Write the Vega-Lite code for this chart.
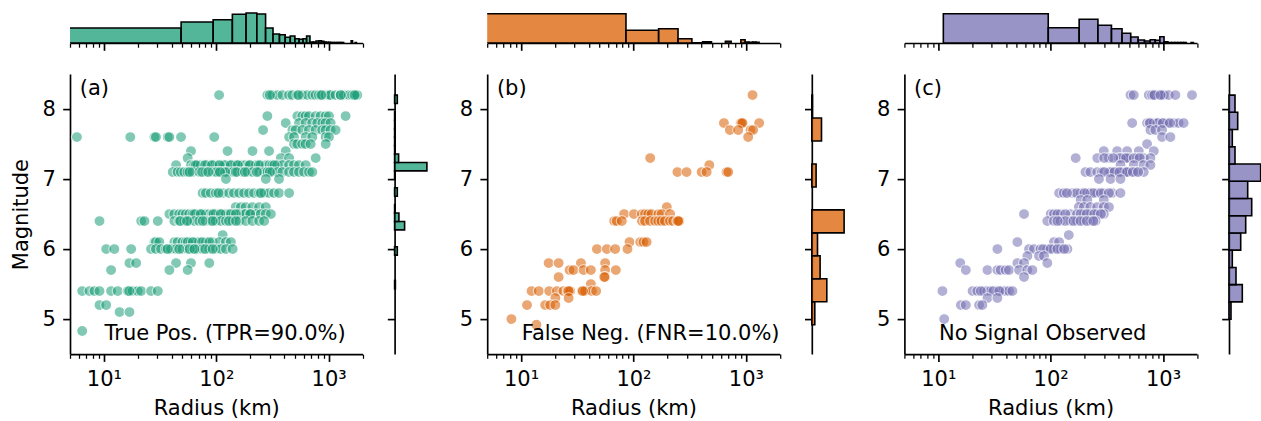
{
"$schema": "https://vega.github.io/schema/vega-lite/v6.json",
"padding": {"left": 10, "top": 8.5, "right": 0, "bottom": 0},
"config": {
  "view": {"stroke": null},
  "font": "DejaVu Sans",
  "axis": {"domainColor": "black", "domainWidth": 1.67, "tickColor": "black", "tickWidth": 1.67, "tickSize": 7.3, "labelFont": "DejaVu Sans", "labelFontSize": 21, "labelColor": "black", "labelPadding": 7.3, "titleFont": "DejaVu Sans", "titleFontSize": 21, "titleFontWeight": "normal", "titleColor": "black", "grid": false, "labelOverlap": false, "labelFlush": false}
},
"datasets": {
"ptsA": [
{"r":106,"m":8.2},{"r":285,"m":8.2},{"r":316,"m":8.2},{"r":350,"m":8.2},{"r":388,"m":8.2},{"r":445,"m":8.2},{"r":476,"m":8.2},{"r":527,"m":8.2},{"r":584,"m":8.2},{"r":647,"m":8.2},{"r":716,"m":8.2},{"r":767,"m":8.2},{"r":821,"m":8.2},{"r":879,"m":8.2},{"r":941,"m":8.2},{"r":1007,"m":8.2},{"r":1042,"m":8.2},{"r":1154,"m":8.2},{"r":1278,"m":8.2},{"r":1368,"m":8.2},{"r":1515,"m":8.2},{"r":1623,"m":8.2},{"r":1736,"m":8.2},{"r":1797,"m":8.2},{"r":300,"m":8.2},{"r":540,"m":8.2},{"r":860,"m":8.2},{"r":1280,"m":8.2},{"r":1700,"m":8.2},
{"r":285,"m":7.9},{"r":527,"m":7.9},{"r":584,"m":7.9},{"r":625,"m":7.9},{"r":669,"m":7.9},{"r":767,"m":7.9},{"r":849,"m":7.9},{"r":941,"m":7.9},{"r":1007,"m":7.9},{"r":1415,"m":7.9},
{"r":415,"m":7.8},{"r":545,"m":7.8},{"r":625,"m":7.8},{"r":716,"m":7.8},{"r":793,"m":7.8},{"r":879,"m":7.8},{"r":941,"m":7.8},{"r":1042,"m":7.8},
{"r":261,"m":7.7},{"r":476,"m":7.7},{"r":509,"m":7.7},{"r":584,"m":7.7},{"r":669,"m":7.7},{"r":767,"m":7.7},{"r":879,"m":7.7},{"r":941,"m":7.7},{"r":1042,"m":7.7},{"r":1154,"m":7.7},
{"r":5.76,"m":7.6},{"r":17.2,"m":7.6},{"r":28.2,"m":7.6},{"r":29.1,"m":7.6},{"r":37.0,"m":7.6},{"r":38.3,"m":7.6},{"r":48.6,"m":7.6},{"r":96,"m":7.6},{"r":445,"m":7.6},{"r":492,"m":7.6},{"r":625,"m":7.6},{"r":716,"m":7.6},{"r":941,"m":7.6},{"r":1007,"m":7.6},
{"r":492,"m":7.5},{"r":527,"m":7.5},{"r":584,"m":7.5},{"r":625,"m":7.5},{"r":692,"m":7.5},{"r":941,"m":7.5},
{"r":59.6,"m":7.4},{"r":126,"m":7.4},{"r":210,"m":7.4},{"r":295,"m":7.4},{"r":415,"m":7.4},
{"r":55.7,"m":7.3},{"r":375,"m":7.3},{"r":445,"m":7.3},{"r":767,"m":7.3},
{"r":43.9,"m":7.2},{"r":59.6,"m":7.2},{"r":63.8,"m":7.2},{"r":68.3,"m":7.2},{"r":73.1,"m":7.2},{"r":78.3,"m":7.2},{"r":83.8,"m":7.2},{"r":89.7,"m":7.2},{"r":96,"m":7.2},{"r":103,"m":7.2},{"r":114,"m":7.2},{"r":122,"m":7.2},{"r":130,"m":7.2},{"r":140,"m":7.2},{"r":149,"m":7.2},{"r":160,"m":7.2},{"r":171,"m":7.2},{"r":183,"m":7.2},{"r":196,"m":7.2},{"r":225,"m":7.2},{"r":249,"m":7.2},{"r":276,"m":7.2},{"r":295,"m":7.2},{"r":316,"m":7.2},{"r":350,"m":7.2},{"r":388,"m":7.2},{"r":445,"m":7.2},{"r":492,"m":7.2},{"r":545,"m":7.2},{"r":625,"m":7.2},{"r":66,"m":7.2},{"r":80,"m":7.2},{"r":92,"m":7.2},{"r":118,"m":7.2},{"r":135,"m":7.2},{"r":107,"m":7.2},{"r":155,"m":7.2},{"r":200,"m":7.2},{"r":240,"m":7.2},{"r":330,"m":7.2},
{"r":41.0,"m":7.1},{"r":45.4,"m":7.1},{"r":48.6,"m":7.1},{"r":52.0,"m":7.1},{"r":55.7,"m":7.1},{"r":61.7,"m":7.1},{"r":70.7,"m":7.1},{"r":81.0,"m":7.1},{"r":92.8,"m":7.1},{"r":103,"m":7.1},{"r":114,"m":7.1},{"r":126,"m":7.1},{"r":140,"m":7.1},{"r":155,"m":7.1},{"r":171,"m":7.1},{"r":190,"m":7.1},{"r":210,"m":7.1},{"r":241,"m":7.1},{"r":267,"m":7.1},{"r":285,"m":7.1},{"r":316,"m":7.1},{"r":350,"m":7.1},{"r":388,"m":7.1},{"r":445,"m":7.1},{"r":492,"m":7.1},{"r":545,"m":7.1},{"r":604,"m":7.1},{"r":669,"m":7.1},{"r":716,"m":7.1},{"r":75,"m":7.1},{"r":100,"m":7.1},{"r":120,"m":7.1},{"r":300,"m":7.1},{"r":58,"m":7.1},{"r":85,"m":7.1},{"r":108,"m":7.1},{"r":150,"m":7.1},{"r":180,"m":7.1},{"r":230,"m":7.1},
{"r":122,"m":7.0},{"r":276,"m":7.0},{"r":362,"m":7.0},
{"r":75.6,"m":6.8},{"r":81.0,"m":6.8},{"r":89.7,"m":6.8},{"r":99.3,"m":6.8},{"r":114,"m":6.8},{"r":130,"m":6.8},{"r":144,"m":6.8},{"r":160,"m":6.8},{"r":177,"m":6.8},{"r":196,"m":6.8},{"r":217,"m":6.8},{"r":241,"m":6.8},{"r":267,"m":6.8},{"r":295,"m":6.8},{"r":327,"m":6.8},{"r":362,"m":6.8},{"r":445,"m":6.8},{"r":105,"m":6.8},{"r":250,"m":6.8},
{"r":149,"m":6.6},{"r":166,"m":6.6},{"r":183,"m":6.6},{"r":210,"m":6.6},{"r":241,"m":6.6},{"r":276,"m":6.6},
{"r":38.3,"m":6.5},{"r":42.4,"m":6.5},{"r":46.9,"m":6.5},{"r":50.2,"m":6.5},{"r":53.8,"m":6.5},{"r":57.6,"m":6.5},{"r":61.7,"m":6.5},{"r":66.0,"m":6.5},{"r":70.7,"m":6.5},{"r":75.6,"m":6.5},{"r":81.0,"m":6.5},{"r":86.7,"m":6.5},{"r":92.8,"m":6.5},{"r":99.3,"m":6.5},{"r":106,"m":6.5},{"r":114,"m":6.5},{"r":122,"m":6.5},{"r":130,"m":6.5},{"r":144,"m":6.5},{"r":160,"m":6.5},{"r":177,"m":6.5},{"r":183,"m":6.5},{"r":203,"m":6.5},{"r":225,"m":6.5},{"r":249,"m":6.5},{"r":276,"m":6.5},{"r":306,"m":6.5},{"r":64,"m":6.5},{"r":73,"m":6.5},{"r":95,"m":6.5},{"r":110,"m":6.5},{"r":135,"m":6.5},{"r":150,"m":6.5},{"r":200,"m":6.5},
{"r":9.15,"m":6.4},{"r":21.5,"m":6.4},{"r":23.0,"m":6.4},{"r":30.2,"m":6.4},{"r":42.4,"m":6.4},{"r":46.9,"m":6.4},{"r":52.0,"m":6.4},{"r":57.6,"m":6.4},{"r":63.8,"m":6.4},{"r":70.7,"m":6.4},{"r":81.0,"m":6.4},{"r":89.7,"m":6.4},{"r":99.3,"m":6.4},{"r":110,"m":6.4},{"r":122,"m":6.4},{"r":140,"m":6.4},{"r":160,"m":6.4},{"r":183,"m":6.4},{"r":210,"m":6.4},{"r":241,"m":6.4},{"r":267,"m":6.4},{"r":48,"m":6.4},{"r":55,"m":6.4},{"r":76,"m":6.4},{"r":93,"m":6.4},{"r":130,"m":6.4},{"r":150,"m":6.4},
{"r":114,"m":6.2},
{"r":28.2,"m":6.1},{"r":29.1,"m":6.1},{"r":31.2,"m":6.1},{"r":42.4,"m":6.1},{"r":45.4,"m":6.1},{"r":50.2,"m":6.1},{"r":53.8,"m":6.1},{"r":59.6,"m":6.1},{"r":66.0,"m":6.1},{"r":70.7,"m":6.1},{"r":81.0,"m":6.1},{"r":92.8,"m":6.1},{"r":106,"m":6.1},{"r":122,"m":6.1},{"r":135,"m":6.1},{"r":56,"m":6.1},{"r":62,"m":6.1},{"r":75,"m":6.1},{"r":87,"m":6.1},
{"r":10.5,"m":6.0},{"r":12.4,"m":6.0},{"r":17.5,"m":6.0},{"r":26.3,"m":6.0},{"r":29.1,"m":6.0},{"r":32.3,"m":6.0},{"r":35.8,"m":6.0},{"r":39.6,"m":6.0},{"r":43.9,"m":6.0},{"r":50.2,"m":6.0},{"r":55.7,"m":6.0},{"r":61.7,"m":6.0},{"r":68.3,"m":6.0},{"r":75.6,"m":6.0},{"r":86.7,"m":6.0},{"r":99.3,"m":6.0},{"r":110,"m":6.0},{"r":122,"m":6.0},{"r":140,"m":6.0},{"r":37,"m":6.0},{"r":47,"m":6.0},{"r":58,"m":6.0},{"r":64,"m":6.0},{"r":80,"m":6.0},{"r":93,"m":6.0},
{"r":16.9,"m":5.8},{"r":19.4,"m":5.8},{"r":43.9,"m":5.8},{"r":59.6,"m":5.8},{"r":86.7,"m":5.8},
{"r":11.6,"m":5.7},{"r":38.3,"m":5.7},{"r":55.7,"m":5.7},
{"r":6.42,"m":5.4},{"r":7.46,"m":5.4},{"r":8.26,"m":5.4},{"r":9.15,"m":5.4},{"r":11.6,"m":5.4},{"r":13.3,"m":5.4},{"r":16.3,"m":5.4},{"r":18.1,"m":5.4},{"r":20.0,"m":5.4},{"r":21.5,"m":5.4},{"r":26.3,"m":5.4},{"r":30.2,"m":5.4},{"r":16.8,"m":5.4},
{"r":9.15,"m":5.2},{"r":10.5,"m":5.2},{"r":13.8,"m":5.1},{"r":16.9,"m":5.1},{"r":6.42,"m":4.83}
],
"ptsB": [
{"r":1146,"m":8.2},
{"r":638,"m":7.8},{"r":897,"m":7.8},{"r":915,"m":7.8},{"r":934,"m":7.8},{"r":1313,"m":7.8},
{"r":721,"m":7.7},{"r":855,"m":7.7},{"r":1100,"m":7.7},{"r":1161,"m":7.7},{"r":1049,"m":7.6},
{"r":141,"m":7.3},{"r":473,"m":7.2},
{"r":246,"m":7.1},{"r":297,"m":7.1},{"r":404,"m":7.1},{"r":448,"m":7.1},{"r":673,"m":7.1},{"r":697,"m":7.1},
{"r":198,"m":6.6},
{"r":82.6,"m":6.5},{"r":101,"m":6.5},{"r":119,"m":6.5},{"r":127,"m":6.5},{"r":136,"m":6.5},{"r":145,"m":6.5},{"r":167,"m":6.5},{"r":178,"m":6.5},{"r":212,"m":6.5},
{"r":67.4,"m":6.4},{"r":71.1,"m":6.4},{"r":78.8,"m":6.4},{"r":119,"m":6.4},{"r":127,"m":6.4},{"r":141,"m":6.4},{"r":156,"m":6.4},{"r":167,"m":6.4},{"r":178,"m":6.4},{"r":191,"m":6.4},{"r":212,"m":6.4},{"r":226,"m":6.4},{"r":246,"m":6.4},{"r":256,"m":6.4},{"r":250,"m":6.4},
{"r":92.2,"m":6.1},{"r":115,"m":6.1},{"r":123,"m":6.1},{"r":131,"m":6.1},
{"r":47.3,"m":6.0},{"r":58.0,"m":6.0},{"r":68.8,"m":6.0},{"r":88.5,"m":6.0},
{"r":17.6,"m":5.8},{"r":21.6,"m":5.8},{"r":34.1,"m":5.8},{"r":56.0,"m":5.8},
{"r":27.0,"m":5.7},{"r":29.3,"m":5.7},{"r":36.0,"m":5.7},{"r":41.8,"m":5.7},{"r":56.0,"m":5.7},{"r":69.7,"m":5.7},
{"r":21.6,"m":5.6},{"r":56.0,"m":5.6},{"r":55,"m":5.6},{"r":41.8,"m":5.5},
{"r":12.4,"m":5.4},{"r":14.4,"m":5.4},{"r":17.8,"m":5.4},{"r":20.9,"m":5.4},{"r":23.9,"m":5.4},{"r":26.0,"m":5.4},{"r":27.4,"m":5.4},{"r":34.8,"m":5.4},{"r":37.2,"m":5.4},{"r":42.7,"m":5.4},{"r":46.6,"m":5.4},{"r":26.5,"m":5.4},{"r":35.5,"m":5.4},
{"r":20.2,"m":5.3},{"r":26.5,"m":5.3},
{"r":11.3,"m":5.2},{"r":16.4,"m":5.2},{"r":18.2,"m":5.2},{"r":20.2,"m":5.2},
{"r":8.21,"m":5.0},{"r":13.7,"m":4.92}
],
"ptsC": [
{"r":513,"m":8.2},{"r":549,"m":8.2},{"r":746,"m":8.2},{"r":827,"m":8.2},{"r":915,"m":8.2},{"r":980,"m":8.2},{"r":1014,"m":8.2},{"r":1123,"m":8.2},{"r":1287,"m":8.2},{"r":1809,"m":8.2},{"r":800,"m":8.2},{"r":840,"m":8.2},{"r":950,"m":8.2},
{"r":531,"m":7.8},{"r":721,"m":7.8},{"r":772,"m":7.8},{"r":827,"m":7.8},{"r":885,"m":7.8},{"r":980,"m":7.8},{"r":1085,"m":7.8},{"r":1244,"m":7.8},{"r":1377,"m":7.8},{"r":1525,"m":7.8},{"r":900,"m":7.8},{"r":760,"m":7.8},{"r":1000,"m":7.8},{"r":1150,"m":7.8},
{"r":772,"m":7.7},{"r":855,"m":7.7},{"r":980,"m":7.7},
{"r":980,"m":7.6},{"r":1162,"m":7.6},{"r":721,"m":7.5},
{"r":297,"m":7.4},{"r":391,"m":7.4},{"r":479,"m":7.4},{"r":608,"m":7.4},{"r":827,"m":7.4},
{"r":167,"m":7.3},{"r":260,"m":7.3},{"r":330,"m":7.3},{"r":404,"m":7.3},{"r":448,"m":7.3},{"r":496,"m":7.3},{"r":588,"m":7.3},{"r":673,"m":7.3},{"r":772,"m":7.3},{"r":420,"m":7.3},{"r":470,"m":7.3},{"r":300,"m":7.3},{"r":360,"m":7.3},{"r":550,"m":7.3},{"r":620,"m":7.3},
{"r":418,"m":7.2},{"r":549,"m":7.2},{"r":673,"m":7.2},{"r":772,"m":7.2},
{"r":204,"m":7.1},{"r":226,"m":7.1},{"r":260,"m":7.1},{"r":287,"m":7.1},{"r":330,"m":7.1},{"r":353,"m":7.1},{"r":391,"m":7.1},{"r":448,"m":7.1},{"r":513,"m":7.1},{"r":568,"m":7.1},{"r":673,"m":7.1},{"r":340,"m":7.1},{"r":430,"m":7.1},{"r":470,"m":7.1},{"r":300,"m":7.1},{"r":370,"m":7.1},{"r":410,"m":7.1},{"r":480,"m":7.1},{"r":540,"m":7.1},{"r":600,"m":7.1},
{"r":269,"m":7.0},{"r":341,"m":7.0},{"r":418,"m":7.0},
{"r":119,"m":6.8},{"r":131,"m":6.8},{"r":156,"m":6.8},{"r":185,"m":6.8},{"r":212,"m":6.8},{"r":226,"m":6.8},{"r":260,"m":6.8},{"r":297,"m":6.8},{"r":353,"m":6.8},{"r":418,"m":6.8},{"r":170,"m":6.8},{"r":240,"m":6.8},{"r":140,"m":6.8},{"r":200,"m":6.8},{"r":280,"m":6.8},{"r":330,"m":6.8},
{"r":185,"m":6.7},{"r":212,"m":6.7},{"r":297,"m":6.7},
{"r":178,"m":6.6},{"r":198,"m":6.6},{"r":226,"m":6.6},{"r":260,"m":6.6},{"r":297,"m":6.6},{"r":330,"m":6.6},
{"r":58.0,"m":6.5},{"r":100,"m":6.5},{"r":107,"m":6.5},{"r":123,"m":6.5},{"r":150,"m":6.5},{"r":172,"m":6.5},{"r":198,"m":6.5},{"r":226,"m":6.5},{"r":260,"m":6.5},{"r":297,"m":6.5},{"r":115,"m":6.5},{"r":135,"m":6.5},{"r":185,"m":6.5},{"r":210,"m":6.5},{"r":245,"m":6.5},{"r":280,"m":6.5},
{"r":93.4,"m":6.4},{"r":107,"m":6.4},{"r":123,"m":6.4},{"r":150,"m":6.4},{"r":172,"m":6.4},{"r":198,"m":6.4},{"r":226,"m":6.4},{"r":251,"m":6.4},{"r":135,"m":6.4},{"r":115,"m":6.4},{"r":160,"m":6.4},{"r":185,"m":6.4},{"r":210,"m":6.4},{"r":240,"m":6.4},
{"r":145,"m":6.2},
{"r":50.6,"m":6.1},{"r":107,"m":6.1},{"r":119,"m":6.1},
{"r":33.6,"m":6.0},{"r":64.2,"m":6.0},{"r":71.1,"m":6.0},{"r":81.5,"m":6.0},{"r":93.4,"m":6.0},{"r":107,"m":6.0},{"r":123,"m":6.0},{"r":141,"m":6.0},{"r":86,"m":6.0},{"r":100,"m":6.0},{"r":115,"m":6.0},{"r":132,"m":6.0},
{"r":62.1,"m":5.9},{"r":78.8,"m":5.9},{"r":87.3,"m":5.9},
{"r":15.7,"m":5.8},{"r":50.6,"m":5.8},{"r":58.0,"m":5.8},{"r":93.4,"m":5.8},
{"r":17.6,"m":5.7},{"r":27.4,"m":5.7},{"r":33.6,"m":5.7},{"r":36.0,"m":5.7},{"r":39.9,"m":5.7},{"r":42.7,"m":5.7},{"r":52.4,"m":5.7},{"r":62.1,"m":5.7},{"r":68.8,"m":5.7},
{"r":58.0,"m":5.6},
{"r":10.9,"m":5.4},{"r":20.2,"m":5.4},{"r":22.3,"m":5.4},{"r":25.6,"m":5.4},{"r":27.4,"m":5.4},{"r":29.3,"m":5.4},{"r":33.6,"m":5.4},{"r":37.2,"m":5.4},{"r":39.9,"m":5.4},{"r":42.7,"m":5.4},{"r":45.7,"m":5.4},{"r":24,"m":5.4},{"r":31,"m":5.4},{"r":35,"m":5.4},
{"r":27.4,"m":5.3},{"r":33.6,"m":5.3},
{"r":15.9,"m":5.2},{"r":17.6,"m":5.2},{"r":23.1,"m":5.2},{"r":24.7,"m":5.2},
{"r":11.3,"m":5.0}
],
"topA": [
{"r0":3.5,"r1":48.7,"n":15},{"r0":48.7,"r1":93.9,"n":21},{"r0":93.9,"r1":139.1,"n":23.3},{"r0":139.1,"r1":184.3,"n":28.7},{"r0":184.3,"r1":229.5,"n":30},{"r0":229.5,"r1":274.7,"n":29},{"r0":274.7,"r1":319.9,"n":15},{"r0":319.9,"r1":365.1,"n":9},{"r0":365.1,"r1":410.3,"n":8.3},{"r0":410.3,"r1":455.5,"n":5.7},{"r0":455.5,"r1":500.7,"n":7},{"r0":500.7,"r1":545.9,"n":4.3},{"r0":545.9,"r1":591.1,"n":3.7},{"r0":591.1,"r1":636.3,"n":4.3},{"r0":636.3,"r1":681.5,"n":7},{"r0":681.5,"r1":726.7,"n":1},{"r0":726.7,"r1":771.9,"n":1},{"r0":771.9,"r1":817.1,"n":2},{"r0":817.1,"r1":862.3,"n":2.3},{"r0":862.3,"r1":907.5,"n":1.7},{"r0":907.5,"r1":952.7,"n":1},{"r0":952.7,"r1":997.9,"n":0.7},{"r0":997.9,"r1":1043.1,"n":0.7},{"r0":1043.1,"r1":1088.3,"n":0.4},{"r0":1088.3,"r1":1133.5,"n":0.4},{"r0":1133.5,"r1":1178.7,"n":0.4},{"r0":1178.7,"r1":1223.9,"n":0.4},{"r0":1223.9,"r1":1269.1,"n":0.4},{"r0":1269.1,"r1":1314.3,"n":0.4},{"r0":1314.3,"r1":1359.5,"n":0.4},{"r0":1585.5,"r1":1630.7,"n":2.3},{"r0":1720.1,"r1":1766.3,"n":0.4}
],
"topB": [
{"r0":4.1,"r1":85.8,"n":29.3},{"r0":85.8,"r1":167.5,"n":12.7},{"r0":167.5,"r1":249.2,"n":14.3},{"r0":249.2,"r1":330.9,"n":4.3},{"r0":330.9,"r1":412.6,"n":0.3},{"r0":412.6,"r1":494.3,"n":1.3},{"r0":657.7,"r1":739.4,"n":1.7},{"r0":902.8,"r1":984.5,"n":3.3},{"r0":984.5,"r1":1066.2,"n":1},{"r0":1066.2,"r1":1147.9,"n":0.7},{"r0":1147.9,"r1":1229.6,"n":1},{"r0":1229.6,"r1":1311.3,"n":0.7}
],
"topC": [
{"r0":11.1,"r1":95.2,"n":29.3},{"r0":95.2,"r1":179.3,"n":15.3},{"r0":179.3,"r1":263.4,"n":23.7},{"r0":263.4,"r1":347.5,"n":17.7},{"r0":347.5,"r1":431.6,"n":14.3},{"r0":431.6,"r1":515.7,"n":9.7},{"r0":515.7,"r1":599.8,"n":6},{"r0":599.8,"r1":683.9,"n":3},{"r0":683.9,"r1":768,"n":2},{"r0":768,"r1":852.1,"n":3.3},{"r0":852.1,"r1":936.2,"n":2.7},{"r0":936.2,"r1":1020.3,"n":6.3},{"r0":1020.3,"r1":1104.4,"n":1.3},{"r0":1104.4,"r1":1188.5,"n":0.4},{"r0":1188.5,"r1":1272.6,"n":0.4},{"r0":1272.6,"r1":1356.7,"n":0.4},{"r0":1356.7,"r1":1440.8,"n":0.4},{"r0":1440.8,"r1":1524.9,"n":0.4},{"r0":1524.9,"r1":1609,"n":0.4},{"r0":1777.2,"r1":1861.3,"n":0.4}
],
"sideA": [
{"m0":5.432,"m1":5.552,"n":0.8},{"m0":5.914,"m1":6.034,"n":2.7},{"m0":6.275,"m1":6.395,"n":10},{"m0":6.395,"m1":6.515,"n":4.3},{"m0":6.515,"m1":6.636,"n":0.5},{"m0":6.756,"m1":6.876,"n":2.7},{"m0":6.997,"m1":7.118,"n":0.6},{"m0":7.118,"m1":7.238,"n":32.3},{"m0":7.238,"m1":7.358,"n":4},{"m0":7.358,"m1":7.479,"n":0.6},{"m0":7.479,"m1":7.599,"n":0.6},{"m0":7.599,"m1":7.719,"n":0.6},{"m0":7.719,"m1":7.840,"n":0.6},{"m0":7.840,"m1":7.960,"n":0.6},{"m0":8.080,"m1":8.2,"n":2.7}
],
"sideB": [
{"m0":4.92,"m1":5.248,"n":3},{"m0":5.248,"m1":5.576,"n":15},{"m0":5.576,"m1":5.904,"n":8.3},{"m0":5.904,"m1":6.232,"n":5.7},{"m0":6.232,"m1":6.56,"n":32.3},{"m0":6.888,"m1":7.216,"n":4.3},{"m0":7.544,"m1":7.872,"n":9.7},{"m0":7.872,"m1":8.2,"n":0.7}
],
"sideC": [
{"m0":5.0,"m1":5.246,"n":2},{"m0":5.246,"m1":5.492,"n":13.3},{"m0":5.492,"m1":5.738,"n":7},{"m0":5.738,"m1":5.985,"n":3.3},{"m0":5.985,"m1":6.231,"n":11.7},{"m0":6.231,"m1":6.477,"n":16.7},{"m0":6.477,"m1":6.723,"n":22.7},{"m0":6.723,"m1":6.969,"n":18.7},{"m0":6.969,"m1":7.215,"n":31.7},{"m0":7.215,"m1":7.462,"n":6},{"m0":7.462,"m1":7.708,"n":3.3},{"m0":7.708,"m1":7.954,"n":8.7},{"m0":7.954,"m1":8.2,"n":6}
]
},
"columns": 6,
"align": "each",
"bounds": "flush",
"spacing": {"row": 30.6, "column": 31.6},
"concat": [
{"data": {"name": "topA"}, "width": 292.5, "height": 31.5,
 "mark": {"type": "rect", "clip": true, "fill": "#1b9e77", "fillOpacity": 0.75, "stroke": "black", "strokeWidth": 1.6},
 "encoding": {
  "x": {"field": "r0", "type": "quantitative", "scale": {"type": "log", "domain": [5, 2000], "nice": false}, "axis": {"title": null, "labels": false, "values": [5,6,7,8,9,10,20,30,40,50,60,70,80,90,100,200,300,400,500,600,700,800,900,1000,2000], "tickSize": {"condition": {"test": "datum.value == 10 || datum.value == 100 || datum.value == 1000", "value": 7.3}, "value": 4.2}, "tickWidth": {"condition": {"test": "datum.value == 10 || datum.value == 100 || datum.value == 1000", "value": 1.67}, "value": 1.25}}},
  "x2": {"field": "r1"},
  "y": {"field": "n", "type": "quantitative", "scale": {"domain": [0, 31.5], "nice": false}, "axis": null},
  "y2": {"datum": 0}
 }},
{"data": {"values": [{"k": 0}]}, "width": 1, "height": 1, "mark": {"type": "point", "opacity": 0}, "encoding": {"x": {"field": "k", "type": "quantitative", "axis": null}, "y": {"field": "k", "type": "quantitative", "axis": null}}},
{"data": {"name": "topB"}, "width": 292.5, "height": 31.5,
 "mark": {"type": "rect", "clip": true, "fill": "#d95f02", "fillOpacity": 0.75, "stroke": "black", "strokeWidth": 1.6},
 "encoding": {
  "x": {"field": "r0", "type": "quantitative", "scale": {"type": "log", "domain": [5, 2000], "nice": false}, "axis": {"title": null, "labels": false, "values": [5,6,7,8,9,10,20,30,40,50,60,70,80,90,100,200,300,400,500,600,700,800,900,1000,2000], "tickSize": {"condition": {"test": "datum.value == 10 || datum.value == 100 || datum.value == 1000", "value": 7.3}, "value": 4.2}, "tickWidth": {"condition": {"test": "datum.value == 10 || datum.value == 100 || datum.value == 1000", "value": 1.67}, "value": 1.25}}},
  "x2": {"field": "r1"},
  "y": {"field": "n", "type": "quantitative", "scale": {"domain": [0, 31.5], "nice": false}, "axis": null},
  "y2": {"datum": 0}
 }},
{"data": {"values": [{"k": 0}]}, "width": 1, "height": 1, "mark": {"type": "point", "opacity": 0}, "encoding": {"x": {"field": "k", "type": "quantitative", "axis": null}, "y": {"field": "k", "type": "quantitative", "axis": null}}},
{"data": {"name": "topC"}, "width": 292.5, "height": 31.5,
 "mark": {"type": "rect", "clip": true, "fill": "#7570b3", "fillOpacity": 0.75, "stroke": "black", "strokeWidth": 1.6},
 "encoding": {
  "x": {"field": "r0", "type": "quantitative", "scale": {"type": "log", "domain": [5, 2000], "nice": false}, "axis": {"title": null, "labels": false, "values": [5,6,7,8,9,10,20,30,40,50,60,70,80,90,100,200,300,400,500,600,700,800,900,1000,2000], "tickSize": {"condition": {"test": "datum.value == 10 || datum.value == 100 || datum.value == 1000", "value": 7.3}, "value": 4.2}, "tickWidth": {"condition": {"test": "datum.value == 10 || datum.value == 100 || datum.value == 1000", "value": 1.67}, "value": 1.25}}},
  "x2": {"field": "r1"},
  "y": {"field": "n", "type": "quantitative", "scale": {"domain": [0, 31.5], "nice": false}, "axis": null},
  "y2": {"datum": 0}
 }},
{"data": {"values": [{"k": 0}]}, "width": 1, "height": 1, "mark": {"type": "point", "opacity": 0}, "encoding": {"x": {"field": "k", "type": "quantitative", "axis": null}, "y": {"field": "k", "type": "quantitative", "axis": null}}},
{"width": 292.5, "height": 280,
 "layer": [
  {"data": {"name": "ptsA"},
   "mark": {"type": "circle", "size": 123, "color": "#1b9e77", "opacity": 0.55, "stroke": "white", "strokeWidth": 1.2},
   "encoding": {
    "x": {"field": "r", "type": "quantitative", "title": "Radius (km)", "scale": {"type": "log", "domain": [5, 2000], "nice": false}, "axis": {"titlePadding": 8, "values": [5,6,7,8,9,10,20,30,40,50,60,70,80,90,100,200,300,400,500,600,700,800,900,1000,2000], "labelExpr": "datum.value == 10 ? '10¹' : datum.value == 100 ? '10²' : datum.value == 1000 ? '10³' : ''", "tickSize": {"condition": {"test": "datum.value == 10 || datum.value == 100 || datum.value == 1000", "value": 7.3}, "value": 4.2}, "tickWidth": {"condition": {"test": "datum.value == 10 || datum.value == 100 || datum.value == 1000", "value": 1.67}, "value": 1.25}}},
    "y": {"field": "m", "type": "quantitative", "title": "Magnitude", "scale": {"domain": [4.5, 8.5], "nice": false, "zero": false}, "axis": {"values": [5,6,7,8], "format": "d", "titlePadding": 11}}
   }},
  {"data": {"values": [{"t": "(a)", "px": 6.1, "py": 8.29}, {"t": "True Pos. (TPR=90.0%)", "px": 10.15, "py": 4.79}]}, "mark": {"type": "text", "align": "left", "baseline": "middle", "fontSize": 21, "font": "DejaVu Sans", "color": "black"},
   "encoding": {"x": {"field": "px", "type": "quantitative"}, "y": {"field": "py", "type": "quantitative"}, "text": {"field": "t"}}}
 ]},
{"data": {"name": "sideA"}, "width": 60.8, "height": 280,
 "mark": {"type": "rect", "fill": "#1b9e77", "fillOpacity": 0.75, "stroke": "black", "strokeWidth": 1.6},
 "encoding": {
  "y": {"field": "m0", "type": "quantitative", "scale": {"domain": [4.5, 8.5], "nice": false, "zero": false}, "axis": {"title": null, "labels": false, "values": [5,6,7,8]}},
  "y2": {"field": "m1"},
  "x": {"field": "n", "type": "quantitative", "scale": {"domain": [0, 60.8], "nice": false}, "axis": null},
  "x2": {"datum": 0}
 }},
{"width": 292.5, "height": 280,
 "layer": [
  {"data": {"name": "ptsB"},
   "mark": {"type": "circle", "size": 123, "color": "#d95f02", "opacity": 0.55, "stroke": "white", "strokeWidth": 1.2},
   "encoding": {
    "x": {"field": "r", "type": "quantitative", "title": "Radius (km)", "scale": {"type": "log", "domain": [5, 2000], "nice": false}, "axis": {"titlePadding": 8, "values": [5,6,7,8,9,10,20,30,40,50,60,70,80,90,100,200,300,400,500,600,700,800,900,1000,2000], "labelExpr": "datum.value == 10 ? '10¹' : datum.value == 100 ? '10²' : datum.value == 1000 ? '10³' : ''", "tickSize": {"condition": {"test": "datum.value == 10 || datum.value == 100 || datum.value == 1000", "value": 7.3}, "value": 4.2}, "tickWidth": {"condition": {"test": "datum.value == 10 || datum.value == 100 || datum.value == 1000", "value": 1.67}, "value": 1.25}}},
    "y": {"field": "m", "type": "quantitative", "title": null, "scale": {"domain": [4.5, 8.5], "nice": false, "zero": false}, "axis": {"values": [5,6,7,8], "format": "d"}}
   }},
  {"data": {"values": [{"t": "(b)", "px": 6.1, "py": 8.29}, {"t": "False Neg. (FNR=10.0%)", "px": 10.15, "py": 4.79}]}, "mark": {"type": "text", "align": "left", "baseline": "middle", "fontSize": 21, "font": "DejaVu Sans", "color": "black"},
   "encoding": {"x": {"field": "px", "type": "quantitative"}, "y": {"field": "py", "type": "quantitative"}, "text": {"field": "t"}}}
 ]},
{"data": {"name": "sideB"}, "width": 60.8, "height": 280,
 "mark": {"type": "rect", "fill": "#d95f02", "fillOpacity": 0.75, "stroke": "black", "strokeWidth": 1.6},
 "encoding": {
  "y": {"field": "m0", "type": "quantitative", "scale": {"domain": [4.5, 8.5], "nice": false, "zero": false}, "axis": {"title": null, "labels": false, "values": [5,6,7,8]}},
  "y2": {"field": "m1"},
  "x": {"field": "n", "type": "quantitative", "scale": {"domain": [0, 60.8], "nice": false}, "axis": null},
  "x2": {"datum": 0}
 }},
{"width": 292.5, "height": 280,
 "layer": [
  {"data": {"name": "ptsC"},
   "mark": {"type": "circle", "size": 123, "color": "#7570b3", "opacity": 0.55, "stroke": "white", "strokeWidth": 1.2},
   "encoding": {
    "x": {"field": "r", "type": "quantitative", "title": "Radius (km)", "scale": {"type": "log", "domain": [5, 2000], "nice": false}, "axis": {"titlePadding": 8, "values": [5,6,7,8,9,10,20,30,40,50,60,70,80,90,100,200,300,400,500,600,700,800,900,1000,2000], "labelExpr": "datum.value == 10 ? '10¹' : datum.value == 100 ? '10²' : datum.value == 1000 ? '10³' : ''", "tickSize": {"condition": {"test": "datum.value == 10 || datum.value == 100 || datum.value == 1000", "value": 7.3}, "value": 4.2}, "tickWidth": {"condition": {"test": "datum.value == 10 || datum.value == 100 || datum.value == 1000", "value": 1.67}, "value": 1.25}}},
    "y": {"field": "m", "type": "quantitative", "title": null, "scale": {"domain": [4.5, 8.5], "nice": false, "zero": false}, "axis": {"values": [5,6,7,8], "format": "d"}}
   }},
  {"data": {"values": [{"t": "(c)", "px": 6.1, "py": 8.29}, {"t": "No Signal Observed", "px": 10.15, "py": 4.79}]}, "mark": {"type": "text", "align": "left", "baseline": "middle", "fontSize": 21, "font": "DejaVu Sans", "color": "black"},
   "encoding": {"x": {"field": "px", "type": "quantitative"}, "y": {"field": "py", "type": "quantitative"}, "text": {"field": "t"}}}
 ]},
{"data": {"name": "sideC"}, "width": 33, "height": 280,
 "mark": {"type": "rect", "fill": "#7570b3", "fillOpacity": 0.75, "stroke": "black", "strokeWidth": 1.6},
 "encoding": {
  "y": {"field": "m0", "type": "quantitative", "scale": {"domain": [4.5, 8.5], "nice": false, "zero": false}, "axis": {"title": null, "labels": false, "values": [5,6,7,8]}},
  "y2": {"field": "m1"},
  "x": {"field": "n", "type": "quantitative", "scale": {"domain": [0, 33], "nice": false}, "axis": null},
  "x2": {"datum": 0}
 }}
]
}
